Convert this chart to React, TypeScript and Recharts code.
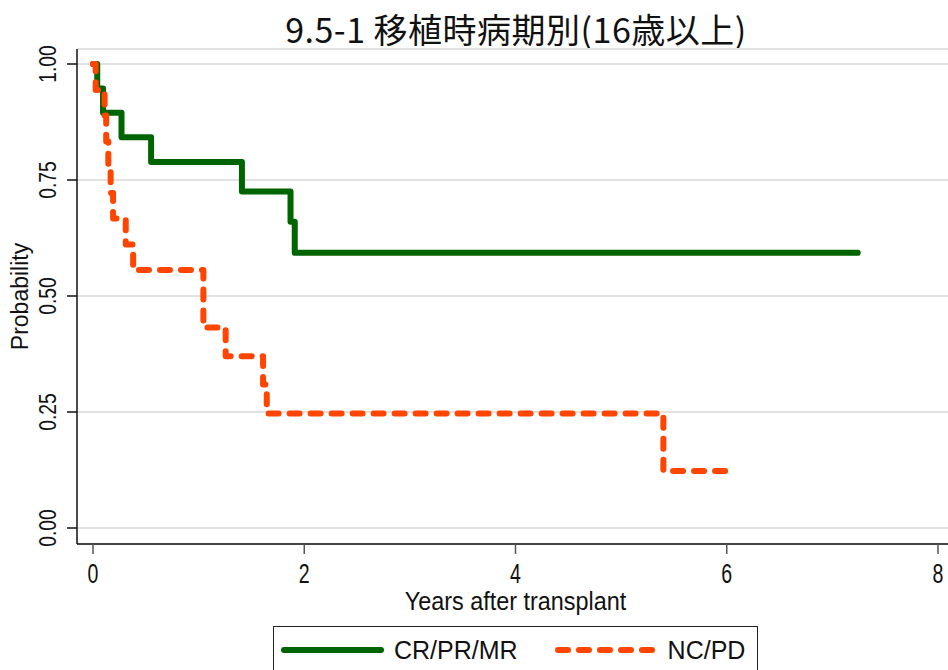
import { LineChart, Line, XAxis, YAxis, CartesianGrid, Legend, Label } from 'recharts';

// 9.5-1 survival by disease stage at transplant (age >= 16)
const TITLE = '9.5-1 移植時病期別(16歳以上)';
const X_LABEL = 'Years after transplant';
const Y_LABEL = 'Probability';
const X_TICKS = [0, 2, 4, 6, 8];
const Y_TICKS = [0, 0.25, 0.5, 0.75, 1];

// CR/PR/MR – step points (years, probability)
const CR_YEARS = [0, 0.04, 0.095, 0.27, 0.55, 1.41, 1.87, 1.91, 7.24];
const CR_SURV = [1, 0.947, 0.895, 0.842, 0.789, 0.725, 0.66, 0.593, 0.593];

// NC/PD
const NC_YEARS = [0, 0.025, 0.11, 0.125, 0.145, 0.167, 0.19, 0.31, 0.38, 1.045, 1.256, 1.61, 1.645, 5.4, 6.03];
const NC_SURV = [1, 0.944, 0.889, 0.833, 0.778, 0.722, 0.667, 0.611, 0.556, 0.432, 0.37, 0.309, 0.247, 0.123, 0.123];

const SERIES = [
  { name: 'CR/PR/MR', years: CR_YEARS, surv: CR_SURV, color: '#006400', dash: undefined as string | undefined },
  { name: 'NC/PD', years: NC_YEARS, surv: NC_SURV, color: '#FF4500', dash: '10 11' },
];

const W = 948;
const H = 670;
const LABEL_FONT = '"Liberation Sans", Arial, sans-serif';

function XTick({ x, y, payload }: any) {
  return (
    <text transform={`translate(${x},${y + 27}) scale(0.7,1)`} textAnchor="middle"
      fontFamily={LABEL_FONT} fontSize={28} fill="#111">
      {payload.value}
    </text>
  );
}

function YTick({ x, y, payload }: any) {
  return (
    <text transform={`translate(${x - 17},${y}) rotate(-90) scale(0.8,1)`} textAnchor="middle"
      dominantBaseline="central" fontFamily={LABEL_FONT} fontSize={24} fill="#111">
      {Number(payload.value).toFixed(2)}
    </text>
  );
}

function LegendBox() {
  return (
    <div style={{
      width: 485, height: 60, border: '1.5px solid #222', boxSizing: 'border-box',
      display: 'flex', alignItems: 'flex-start', paddingTop: 8, background: '#fff',
      fontFamily: LABEL_FONT, fontSize: 25, color: '#111',
    }}>
      {SERIES.map((s, i) => (
        <div key={s.name} style={{ display: 'flex', alignItems: 'center', marginLeft: i === 0 ? 6 : 36 }}>
          <svg width={104} height={14}>
            <line x1={4} y1={7} x2={101} y2={7} stroke={s.color} strokeWidth={6}
              strokeLinecap="round" strokeDasharray={s.dash} />
          </svg>
          <span style={{ marginLeft: 10, lineHeight: '30px' }}>{s.name}</span>
        </div>
      ))}
    </div>
  );
}

export default function App() {
  return (
    <div style={{ position: 'absolute', left: 0, top: 0, width: W, height: H, background: '#fff', overflow: 'hidden' }}>
      <div style={{
        position: 'absolute', left: 516, top: 11, transform: 'translateX(-50%)', whiteSpace: 'nowrap',
        fontFamily: '"Noto Sans CJK JP", sans-serif', fontSize: 34, lineHeight: '36px', color: '#111',
        letterSpacing: 0.5,
      }}>
        {TITLE}
      </div>
      <LineChart width={W} height={H} margin={{ top: 49, right: 0, bottom: 66, left: 0 }}>
        <CartesianGrid vertical={false} stroke="#e2e2e2" strokeWidth={2} />
        <XAxis xAxisId="top" orientation="top" type="number" domain={[0, 8]} height={0}
          tick={false} tickLine={false} axisLine={{ stroke: '#444', strokeWidth: 1.5 }} />
        <XAxis dataKey="t" type="number" domain={[0, 8]} ticks={X_TICKS} padding={{ left: 16, right: 10 }}
          height={60} tickSize={10} tickLine={{ stroke: '#555', strokeWidth: 1.5 }}
          axisLine={{ stroke: '#111', strokeWidth: 1.5 }} tick={<XTick />} interval={0}>
          <Label content={({ viewBox }: any) => (
            <text transform={`translate(${viewBox.x + viewBox.width / 2 + 3},${viewBox.y + 66}) scale(0.9,1)`}
              textAnchor="middle" fontFamily={LABEL_FONT} fontSize={26} fill="#111">{X_LABEL}</text>
          )} />
        </XAxis>
        <YAxis type="number" domain={[0, 1]} ticks={Y_TICKS} padding={{ top: 15, bottom: 16 }} width={77}
          tickSize={10} tickLine={{ stroke: '#111', strokeWidth: 1.5 }}
          axisLine={{ stroke: '#111', strokeWidth: 1.5 }} tick={<YTick />} interval={0}>
          <Label content={({ viewBox }: any) => (
            <text transform={`translate(20,${viewBox.y + viewBox.height / 2}) rotate(-90)`}
              textAnchor="middle" dominantBaseline="central" fontFamily={LABEL_FONT} fontSize={23} fill="#111">
              {Y_LABEL}
            </text>
          )} />
        </YAxis>
        {SERIES.map(s => (
          <Line key={s.name} name={s.name} data={s.years.map((t, i) => ({ t, s: s.surv[i] }))} dataKey="s"
            type="stepAfter" stroke={s.color} strokeWidth={6} strokeDasharray={s.dash}
            strokeLinecap="round" strokeLinejoin="round" dot={false} activeDot={false}
            isAnimationActive={false} />
        ))}
        <Legend layout="horizontal" verticalAlign="middle" align="center" content={<LegendBox />}
          wrapperStyle={{ left: 273, top: 626, width: 485, height: 60 }} />
      </LineChart>
    </div>
  );
}
